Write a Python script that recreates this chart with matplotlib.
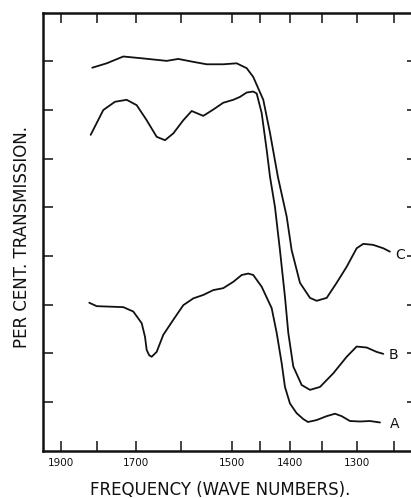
import matplotlib
matplotlib.use("Agg")
import matplotlib.pyplot as plt
from matplotlib.ticker import FixedLocator, FixedFormatter

# ---- data (wave numbers, per cent transmission) ----
wn_A = [1819.6, 1799.7, 1765.0, 1731.6, 1707.3, 1687.4, 1679.7, 1675.8, 1670.0,
        1664.4, 1653.1, 1638.4, 1616.6, 1595.4, 1574.8, 1554.7, 1535.1, 1516.0,
        1497.3, 1482.0, 1470.2, 1461.4, 1446.8, 1429.8, 1421.4, 1413.2, 1407.8,
        1399.7, 1389.0, 1378.6, 1371.3, 1358.0, 1343.0, 1330.8, 1321.2, 1309.4,
        1295.4, 1281.8, 1268.4]
tr_A = [30.4, 29.7, 29.6, 29.5, 28.6, 26.2, 23.4, 20.7, 19.6,
        19.3, 20.3, 23.8, 26.9, 29.9, 31.3, 32.0, 33.0, 33.4,
        34.7, 36.1, 36.4, 36.1, 33.7, 29.3, 24.2, 18.0, 13.1,
        9.7, 7.7, 6.5, 5.9, 6.3, 7.1, 7.6, 7.1, 6.1,
        6.0, 6.1, 5.8]

wn_B = [1815.8, 1782.3, 1752.3, 1723.3, 1699.2, 1675.8, 1653.1, 1634.6, 1616.6,
        1595.4, 1578.1, 1554.7, 1535.1, 1516.0, 1497.3, 1485.1, 1473.0, 1461.4,
        1455.4, 1446.8, 1438.2, 1432.6, 1424.3, 1416.0, 1407.8, 1402.4, 1394.4,
        1381.1, 1368.2, 1353.0, 1333.3, 1314.0, 1300.0, 1286.2, 1272.8, 1264.1]
tr_B = [64.9, 70.0, 71.7, 72.1, 71.0, 67.9, 64.5, 63.8, 65.2,
        67.9, 69.8, 68.8, 70.1, 71.5, 72.1, 72.7, 73.6, 73.8,
        73.4, 69.4, 61.8, 56.3, 50.1, 41.2, 31.6, 24.2, 17.3,
        13.5, 12.5, 13.1, 15.9, 19.3, 21.4, 21.2, 20.3, 19.9]

wn_C = [1811.5, 1773.5, 1731.6, 1683.7, 1630.9, 1606.0, 1574.8, 1548.0, 1516.0,
        1491.1, 1473.0, 1461.4, 1444.0, 1432.6, 1419.3, 1405.0, 1397.0, 1383.8,
        1368.2, 1358.0, 1343.0, 1328.4, 1314.0, 1300.0, 1290.9, 1277.7, 1264.1,
        1255.4]
tr_C = [78.7, 79.6, 81.0, 80.6, 80.1, 80.5, 79.9, 79.4, 79.4,
        79.6, 78.6, 76.8, 72.1, 65.3, 56.2, 48.1, 41.2, 34.5,
        31.4, 30.8, 31.4, 34.5, 37.8, 41.6, 42.5, 42.3, 41.6,
        40.9]

curve_names = ["A", "B", "C"]
label_wn = [1249.8, 1251.1, 1242.5]
label_tr = [5.5, 19.6, 40.2]

xtick_values = [1900, 1800, 1700, 1600, 1500, 1450, 1400, 1350, 1300, 1250]
xtick_labels = ["1900", "", "1700", "", "1500", "", "1400", "", "1300", ""]
ytick_values = [10, 20, 30, 40, 50, 60, 70, 80]

# ---- figure ----
W, H = 411, 498
fig = plt.figure(figsize=(W / 100, H / 100), dpi=100)
left_px, right_px, top_px, bot_px = 42.7, 417.0, 12.7, 450.7
ax = fig.add_axes([left_px / W, 1 - bot_px / H,
                   (right_px - left_px) / W, (bot_px - top_px) / H])

# axis linear in wavelength (1/wave number)
ax.set_xscale("function", functions=(lambda x: 1e4 / x, lambda x: 1e4 / x))
ax.set_xlim(1221.3, 1955.8)
ax.set_ylim(0, 90)

lw = 1.3
for wn, tr in [(wn_A, tr_A), (wn_B, tr_B), (wn_C, tr_C)]:
    ax.plot(wn, tr, color="#111111", lw=lw, solid_joinstyle="round",
            solid_capstyle="round")

for name, x, y in zip(curve_names, label_wn, label_tr):
    ax.text(x, y, name, fontsize=10, ha="center", va="center", color="#111111")

ax.xaxis.set_major_locator(FixedLocator(xtick_values))
ax.xaxis.set_major_formatter(FixedFormatter(xtick_labels))
ax.xaxis.set_minor_locator(FixedLocator([]))
ax.yaxis.set_major_locator(FixedLocator(ytick_values))
ax.yaxis.set_major_formatter(FixedFormatter([""] * len(ytick_values)))
ax.yaxis.set_minor_locator(FixedLocator([]))

ax.tick_params(axis="both", which="major", direction="in", length=7.2,
               width=1.1, color="#111111", top=True, right=True,
               labelsize=7.5, labelcolor="#111111", pad=5.0)

for s in ax.spines.values():
    s.set_linewidth(1.8)
    s.set_color("#111111")

ax.set_xlabel("FREQUENCY (WAVE NUMBERS).", fontsize=12, color="#111111")
ax.xaxis.set_label_coords(0.475, -0.07)
ax.set_ylabel("PER CENT. TRANSMISSION.", fontsize=12, color="#111111")
ax.yaxis.set_label_coords(-0.03, 0.487)

fig.savefig("out.png", dpi=100)
